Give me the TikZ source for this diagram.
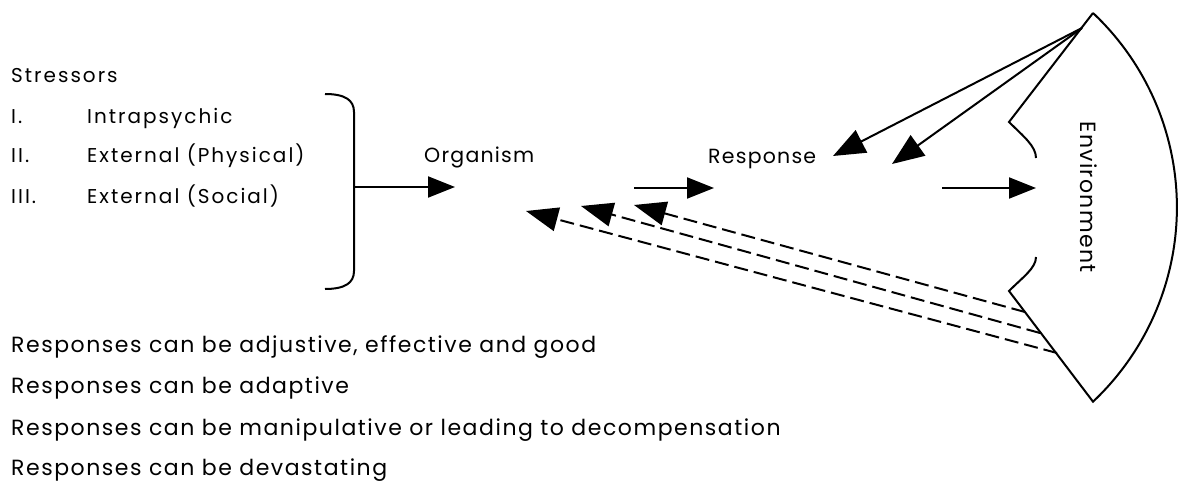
\documentclass[tikz,border=0pt]{standalone}
\usepackage{fontspec}
\setmainfont{Poppins}
\newfontfamily\listfont[LetterSpace=10]{Poppins}
\newfontfamily\notefont[LetterSpace=7]{Poppins}
\newfontfamily\envfont[LetterSpace=6]{Poppins}
\usetikzlibrary{arrows.meta}

\tikzset{
  line/.style={line width=2pt, line join=miter},
  solidarrow/.style={line width=2pt, -{Triangle[length=27pt,width=21pt]}},
  slantarrow/.style={line width=2pt, -{Triangle[length=32pt,width=25pt]}},
  backarrow/.style={line width=2pt, dash pattern=on 14pt off 6pt, -{Triangle[length=32pt,width=24pt]}},
  listtext/.style={anchor=base west, inner sep=0pt, font=\listfont\fontsize{20}{24}\selectfont},
  chaintext/.style={anchor=base west, inner sep=0pt, font=\envfont\fontsize{20.5}{24}\selectfont},
  notetext/.style={anchor=base west, inner sep=0pt, font=\notefont\fontsize{22}{26}\selectfont},
}

\begin{document}
\begin{tikzpicture}[x=1pt, y=1pt]
\useasboundingbox (0,0) rectangle (1178,-481);

% stressor list
\node[listtext] (stressors) at (11,-83) {Stressors};
\node[listtext] (n1) at (11,-124) {I.};
\node[listtext] (s1) at (87,-124) {Intrapsychic};
\node[listtext] (n2) at (11,-163) {II.};
\node[listtext] (s2) at (87,-163) {External (Physical)};
\node[listtext] (n3) at (11,-204) {III.};
\node[listtext] (s3) at (87,-204) {External (Social)};

% closing bracket round the stressors
\draw[line] (325,-94) .. controls (345,-94) and (354,-100) .. (354,-112)
  -- (354,-271) .. controls (354,-283) and (345,-289) .. (325,-289);
\coordinate (bracket) at (355,-187);

% main chain
\node[chaintext] (organism) at (424,-163) {Organism};
\node[chaintext] (response) at (708,-164) {Response};
\coordinate (orgIn) at (455,-187);
\coordinate (orgOut) at (634,-188);
\coordinate (respIn) at (714,-188);
\coordinate (respOut) at (942,-188);
\coordinate (envIn) at (1036,-188);

% environment shape
\coordinate (envTop) at (1093,-13);
\coordinate (envBot) at (1093,-402);
\coordinate (envUL) at (1009,-122);
\coordinate (envLL) at (1009,-291);
\draw[line] (envTop) arc[start angle=46.7, end angle=-46.7, radius=267.05]
  -- (envLL) .. controls (1023,-277) and (1036,-268) .. (1036,-257);
\draw[line] (envTop) -- (envUL) .. controls (1023,-136) and (1036,-146) .. (1036,-158);
\node[rotate=-90, inner sep=0pt, font=\envfont\fontsize{22}{26}\selectfont] (environment) at (1089,-197) {Environment};

% forward arrows
\draw[solidarrow] (bracket) -- (orgIn);
\draw[solidarrow] (orgOut) -- (respIn);
\draw[solidarrow] (respOut) -- (envIn);

% environment acting back on the response
\coordinate (fbSrc) at (1082,-28);
\coordinate (fbA) at (833,-156);
\coordinate (fbB) at (892,-164);
\draw[slantarrow] (fbSrc) -- (fbA);
\draw[slantarrow] (fbSrc) -- (fbB);

% dashed feedback to the organism
\coordinate (d1s) at (1025,-312);
\coordinate (d2s) at (1040,-333);
\coordinate (d3s) at (1057,-353);
\coordinate (d1e) at (634,-205);
\coordinate (d2e) at (581,-206);
\coordinate (d3e) at (526,-211);
\draw[backarrow] (d1s) -- (d1e);
\draw[backarrow] (d2s) -- (d2e);
\draw[backarrow] (d3s) -- (d3e);

% kinds of response
\node[notetext] (r1) at (11,-352) {Responses can be adjustive, effective and good};
\node[notetext] (r2) at (11,-393) {Responses can be adaptive};
\node[notetext] (r3) at (11,-435) {Responses can be manipulative or leading to decompensation};
\node[notetext] (r4) at (11,-475) {Responses can be devastating};
\end{tikzpicture}
\end{document}
